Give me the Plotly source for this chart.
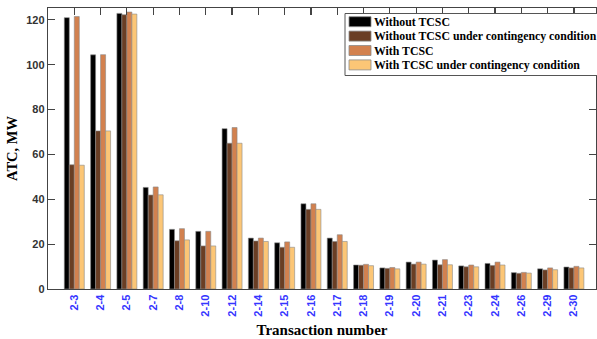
import plotly.graph_objects as go

categories = ["2-3", "2-4", "2-5", "2-7", "2-8", "2-10", "2-12", "2-14", "2-15", "2-16",
              "2-17", "2-18", "2-19", "2-20", "2-21", "2-23", "2-24", "2-26", "2-29", "2-30"]

without_tcsc = [121.0, 104.4, 122.9, 45.3, 26.6, 25.7, 71.5, 22.7, 20.6, 38.0,
                22.7, 10.7, 9.4, 12.0, 12.9, 10.3, 11.4, 7.3, 9.0, 9.8]
without_tcsc_cont = [55.4, 70.5, 122.3, 41.9, 21.5, 19.2, 65.0, 21.4, 18.6, 35.5,
                     21.2, 10.6, 9.2, 11.1, 10.8, 9.9, 10.5, 7.0, 8.5, 9.4]
with_tcsc = [121.5, 104.5, 123.5, 45.5, 26.9, 25.7, 72.0, 22.7, 21.0, 38.0,
             24.2, 11.0, 9.6, 12.0, 13.1, 10.7, 12.0, 7.4, 9.4, 10.1]
with_tcsc_cont = [55.2, 70.5, 122.6, 42.0, 21.9, 19.2, 65.0, 21.2, 18.6, 35.5,
                  21.2, 10.4, 9.0, 11.1, 10.8, 9.9, 10.7, 7.1, 8.6, 9.4]

series_names = ["Without TCSC", "Without TCSC under contingency condition",
                "With TCSC", "With TCSC under contingency condition"]
series_values = [without_tcsc, without_tcsc_cont, with_tcsc, with_tcsc_cont]
colors = ["#000000", "#6a3e24", "#d2814f", "#fcc676"]

y_ticks = [0, 20, 40, 60, 80, 100, 120]

W, H = 597, 339
ML, MR, MT, MB = 48, 1, 8, 50
PW, PH = W - ML - MR, H - MT - MB


def px_x(p):
    return (p - ML) / PW


def px_y(p):
    return (H - MB - p) / PH


fig = go.Figure()
for name, vals, col in zip(series_names, series_values, colors):
    fig.add_trace(go.Bar(
        x=categories, y=vals, name=name, showlegend=False,
        marker=dict(color=col, line=dict(color="#8a8a8a", width=0.6)),
    ))

# invisible helper trace for the top tick axis
fig.add_trace(go.Scatter(x=categories, y=[0] * len(categories), xaxis="x2",
                         mode="markers", marker=dict(opacity=0), showlegend=False,
                         hoverinfo="skip"))

# legend drawn as a compact box (native legend rows are too tall)
shapes = [dict(type="rect", xref="paper", yref="paper",
               x0=px_x(345), x1=px_x(620), y0=px_y(75.5), y1=px_y(13.5),
               line=dict(color="#555555", width=1), fillcolor="white", layer="above")]
annotations = []
for i, (name, col) in enumerate(zip(series_names, colors)):
    top = 16.7 + 14.4 * i
    shapes.append(dict(type="rect", xref="paper", yref="paper",
                       x0=px_x(349), x1=px_x(371), y0=px_y(top + 10), y1=px_y(top),
                       line=dict(color="#8a8a8a", width=0.8), fillcolor=col, layer="above"))
    annotations.append(dict(text=name, xref="paper", yref="paper",
                            x=px_x(372), y=px_y(top + 5.3), xanchor="left", yanchor="middle",
                            showarrow=False,
                            font=dict(family="Liberation Serif", size=11.8, color="black",
                                      weight="bold")))

fig.update_layout(
    width=W, height=H,
    margin=dict(l=ML, r=MR, t=MT, b=MB, autoexpand=False),
    paper_bgcolor="white", plot_bgcolor="white",
    barmode="group", bargap=0.24, bargroupgap=0.0,
    showlegend=False, hovermode=False,
    shapes=shapes, annotations=annotations,
    xaxis=dict(
        type="category", categoryorder="array", categoryarray=categories,
        range=[-1, 19.84],
        showline=True, linecolor="#444444", linewidth=1.2,
        ticks="", showgrid=False, zeroline=False,
        tickangle=-90,
        tickfont=dict(family="Liberation Sans", size=11, color="#3535ff", weight="bold"),
        title=dict(text="Transaction number", standoff=8,
                   font=dict(family="Liberation Serif", size=15, color="black", weight="bold")),
    ),
    xaxis2=dict(
        type="category", categoryorder="array", categoryarray=categories,
        overlaying="x", side="top", anchor="y", matches="x",
        range=[-1, 19.84],
        showline=True, linecolor="#444444", linewidth=1.2,
        ticks="inside", ticklen=7, tickwidth=1.2, tickcolor="#444444",
        showticklabels=False, showgrid=False, zeroline=False,
    ),
    yaxis=dict(
        range=[0, 125.3], tickvals=y_ticks,
        showline=True, linecolor="#444444", linewidth=1.2, mirror="ticks",
        ticks="inside", ticklen=7, tickwidth=1.2, tickcolor="#444444",
        showgrid=False, zeroline=False,
        tickfont=dict(family="Liberation Sans", size=11, color="#333333", weight="bold"),
        title=dict(text="ATC, MW", standoff=5,
                   font=dict(family="Liberation Serif", size=14.5, color="black", weight="bold")),
    ),
)

fig.write_html("out.html", config={"displayModeBar": False, "staticPlot": True},
               post_script="document.body.style.margin='0px';document.body.style.overflow='hidden';")
